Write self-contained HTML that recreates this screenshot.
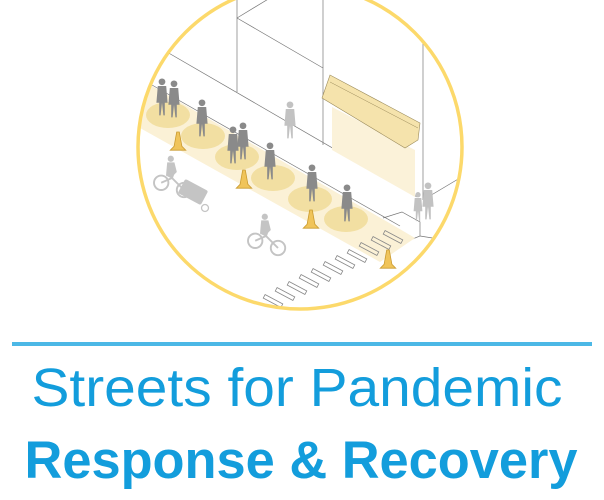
<!DOCTYPE html>
<html><head><meta charset="utf-8"><style>
html,body{margin:0;padding:0;background:#fff;}
svg{display:block}
</style></head><body>
<svg width="604" height="500" viewBox="0 0 604 500" xmlns="http://www.w3.org/2000/svg">
<defs>
<clipPath id="c"><circle cx="300" cy="147" r="162"/></clipPath>
<g id="p"><circle cx="0" cy="-23" r="2.4"/><path d="M-3,-20 h6 l1,12 h-2 l0,9 -1,0 -1,-9 -1,9 h-1 l0,-9 h-2z"/></g>
<g id="cone"><path d="M-6,4 L6,4 L3,1 L1,-10 H-1 L-3,1Z" fill="#f0c45a" stroke="#c99a2e" stroke-width="0.6"/></g>
<g id="bike" fill="none" stroke="#c4c4c4" stroke-width="1.6"><circle cx="-9" cy="4" r="6"/><circle cx="10" cy="10" r="6"/><path d="M-9,4 L0,0 L10,10 M0,0 L2,-6"/><circle cx="-1" cy="-16" r="2.6" fill="#c4c4c4" stroke="none"/><path d="M-4,-13 h6 l2,8 -5,5 -4,-2z" fill="#c4c4c4" stroke="none"/></g>
</defs>
<g clip-path="url(#c)">
<rect x="130" y="-20" width="340" height="340" fill="#fff"/>
<g stroke="#777" stroke-width="0.7" fill="none">
<line x1="237" y1="-20" x2="237" y2="92"/>
<line x1="323" y1="-20" x2="323" y2="145"/>
<line x1="423" y1="43" x2="423" y2="200"/>
<line x1="237" y1="18" x2="323" y2="68"/>
<line x1="237" y1="18" x2="270" y2="-2"/>
<line x1="160" y1="48" x2="417" y2="197"/>
<line x1="423" y1="200" x2="470" y2="172"/>
<line x1="152" y1="85" x2="400" y2="226"/>
<line x1="150" y1="88" x2="398" y2="229"/>
<path d="M383,218 L402,212 L420,222 L420,236 L410,240"/>
<path d="M420,236 L445,240"/>
</g>
<polygon points="332,107 415,150 415,197 332,150" fill="#fbf2d9"/>
<polygon points="322,98 330,75 420,123 418,140 405,148" fill="#f5e3ac" stroke="#9a8a5a" stroke-width="0.6"/>
<line x1="330" y1="82" x2="418" y2="128" stroke="#9a8a5a" stroke-width="0.5"/>
<polygon points="130,80 152,86 398,228 415,238 380,262 140,128 130,124" fill="#fbf1d6"/>
<g fill="#f2dfa2">
<ellipse cx="168" cy="115" rx="22" ry="13"/>
<ellipse cx="203" cy="136" rx="22" ry="13"/>
<ellipse cx="237" cy="157" rx="22" ry="13"/>
<ellipse cx="273" cy="178" rx="22" ry="13"/>
<ellipse cx="310" cy="199" rx="22" ry="13"/>
<ellipse cx="346" cy="219" rx="22" ry="13"/>
</g>
<g fill="none" stroke="#888" stroke-width="0.8">
<g transform="translate(273,301) rotate(28)"><rect x="-10" y="-2" width="20" height="4"/></g>
<g transform="translate(285,294) rotate(28)"><rect x="-10" y="-2" width="20" height="4"/></g>
<g transform="translate(297,288) rotate(28)"><rect x="-10" y="-2" width="20" height="4"/></g>
<g transform="translate(309,281) rotate(28)"><rect x="-10" y="-2" width="20" height="4"/></g>
<g transform="translate(321,275) rotate(28)"><rect x="-10" y="-2" width="20" height="4"/></g>
<g transform="translate(333,268) rotate(28)"><rect x="-10" y="-2" width="20" height="4"/></g>
<g transform="translate(345,262) rotate(28)"><rect x="-10" y="-2" width="20" height="4"/></g>
<g transform="translate(357,256) rotate(28)"><rect x="-10" y="-2" width="20" height="4"/></g>
<g transform="translate(369,249) rotate(28)"><rect x="-10" y="-2" width="20" height="4"/></g>
<g transform="translate(381,243) rotate(28)"><rect x="-10" y="-2" width="20" height="4"/></g>
<g transform="translate(393,237) rotate(28)"><rect x="-10" y="-2" width="20" height="4"/></g>
</g>
<g fill="#8a8a8a">
<use href="#p" transform="translate(162,114) scale(1.4)"/>
<use href="#p" transform="translate(174,116) scale(1.4)"/>
<use href="#p" transform="translate(202,135) scale(1.4)"/>
<use href="#p" transform="translate(233,162) scale(1.4)"/>
<use href="#p" transform="translate(243,158) scale(1.4)"/>
<use href="#p" transform="translate(270,178) scale(1.4)"/>
<use href="#p" transform="translate(312,200) scale(1.4)"/>
<use href="#p" transform="translate(347,220) scale(1.4)"/>
</g>
<g fill="#c2c2c2">
<use href="#p" transform="translate(290,137) scale(1.4)"/>
<use href="#p" transform="translate(418,220) scale(1.1)"/>
<use href="#p" transform="translate(428,218) scale(1.4)"/>
</g>
<use href="#bike" transform="translate(172,178) scale(1.2)"/>
<rect x="180" y="184" width="26" height="16" rx="2" fill="#c4c4c4" transform="rotate(28 193 192)"/>
<circle cx="205" cy="208" r="3.5" fill="none" stroke="#c4c4c4" stroke-width="1.3"/>
<use href="#bike" transform="translate(266,236) scale(1.2)"/>
<use href="#cone" transform="translate(178,145) scale(1.3)"/>
<use href="#cone" transform="translate(244,183) scale(1.3)"/>
<use href="#cone" transform="translate(311,223) scale(1.3)"/>
<use href="#cone" transform="translate(388,263) scale(1.3)"/>
</g>
<circle cx="300" cy="147" r="162" fill="none" stroke="#fcd96b" stroke-width="3.5"/>
<rect x="12" y="342" width="580" height="4" fill="#4cb8e6"/>
<text x="297" y="406" text-anchor="middle" font-family="Liberation Sans, sans-serif" font-size="54" fill="#139ddc" textLength="531" lengthAdjust="spacingAndGlyphs">Streets for Pandemic</text>
<text x="301" y="478" text-anchor="middle" font-family="Liberation Sans, sans-serif" font-weight="bold" font-size="53" fill="#139ddc" textLength="553" lengthAdjust="spacingAndGlyphs">Response &amp; Recovery</text>
</svg>
</body></html>
